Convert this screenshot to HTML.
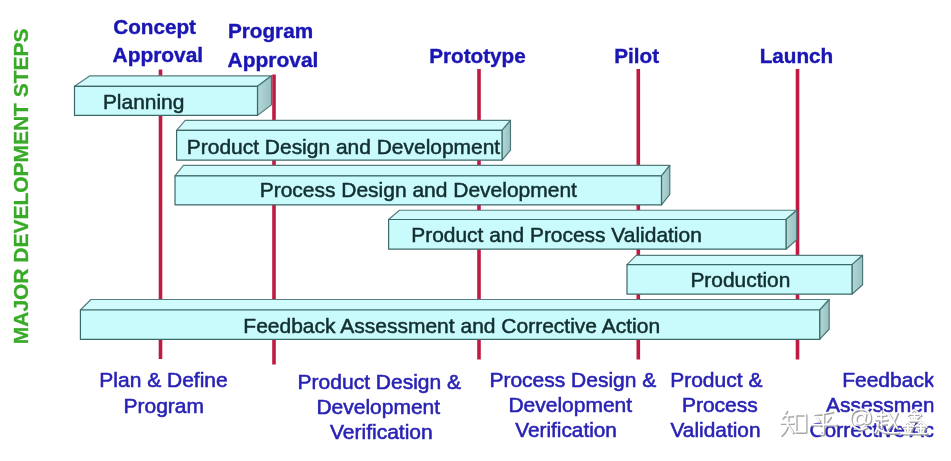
<!DOCTYPE html>
<html><head><meta charset="utf-8">
<style>
html,body{margin:0;padding:0;background:#fff;}
body{width:951px;height:461px;overflow:hidden;font-family:"Liberation Sans",sans-serif;}
svg{display:block;filter:blur(0.7px);}
.b{font-family:"Liberation Sans",sans-serif;font-weight:bold;font-size:20.7px;fill:#1a16b4;stroke:#1a16b4;stroke-width:0.4;}
.r{font-family:"Liberation Sans",sans-serif;font-size:21px;fill:#2822b4;stroke:#2822b4;stroke-width:0.55;}
.k{font-family:"Liberation Sans",sans-serif;font-size:21px;fill:#132e2f;stroke:#132e2f;stroke-width:0.5;}
.g{font-family:"Liberation Sans",sans-serif;font-weight:bold;font-size:21px;fill:#38aa28;stroke:#38aa28;stroke-width:0.3;}
.f{fill:#c9fbfc;stroke:#3c6868;stroke-width:1.2;stroke-linejoin:round;}
.t{fill:#cffbfc;stroke:#587c7c;stroke-width:1.15;stroke-linejoin:round;}
.s{fill:url(#sg);stroke:#4a7474;stroke-width:1.15;stroke-linejoin:round;}
.l{stroke:#c01a42;stroke-width:3.6;}
#wm path{vector-effect:non-scaling-stroke;}
</style></head><body>
<svg width="951" height="461" viewBox="0 0 951 461">
<rect width="951" height="461" fill="#fff"/>
<!-- vertical text -->
<text class="g" transform="translate(27.5,344.2) rotate(-90)" textLength="315.6" lengthAdjust="spacingAndGlyphs">MAJOR DEVELOPMENT STEPS</text>
<!-- red lines -->
<line class="l" x1="160.5" y1="69.4" x2="160.5" y2="359"/>
<line class="l" x1="274" y1="74.5" x2="274" y2="364.5"/>
<line class="l" x1="479" y1="69" x2="479" y2="359.5"/>
<line class="l" x1="638.3" y1="69" x2="638.3" y2="359.5"/>
<line class="l" x1="797.5" y1="69" x2="797.5" y2="359.5"/>
<!-- top labels -->
<text class="b" x="113.2" y="33.7">Concept</text>
<text class="b" x="112.6" y="62" textLength="90.6" lengthAdjust="spacingAndGlyphs">Approval</text>
<text class="b" x="228" y="38.4">Program</text>
<text class="b" x="227.6" y="67.1" textLength="90.8" lengthAdjust="spacingAndGlyphs">Approval</text>
<text class="b" x="429.2" y="62.5">Prototype</text>
<text class="b" x="614.3" y="62.5">Pilot</text>
<text class="b" x="759.7" y="62.5">Launch</text>
<!-- bars -->
<g id="bars">
<!-- Planning -->
<polygon class="t" points="74.5,86.3 90,75.8 271.5,75.8 257.5,86.3"/>
<polygon class="s" points="257.5,86.3 271.5,75.8 271.5,104.9 257.5,115.4"/>
<rect class="f" x="74.5" y="86.3" width="183" height="29.1"/>
<!-- Product Design -->
<polygon class="t" points="176.6,130.3 185.2,120.3 510.5,120.3 502,130.3"/>
<polygon class="s" points="502,130.3 510.5,120.3 510.5,150.2 502,160.1"/>
<rect class="f" x="176.6" y="130.3" width="325.4" height="29.8"/>
<!-- Process Design -->
<polygon class="t" points="175,175.8 183.4,165.4 669.8,165.4 661.5,175.8"/>
<polygon class="s" points="661.5,175.8 669.8,165.4 669.8,194.4 661.5,204.8"/>
<rect class="f" x="175" y="175.8" width="486.5" height="29"/>
<!-- Validation -->
<polygon class="t" points="388.6,219.5 399.4,210.2 796.7,210.2 786,219.5"/>
<polygon class="s" points="786,219.5 796.7,210.2 796.7,239.8 786,249.2"/>
<rect class="f" x="388.6" y="219.5" width="397.4" height="29.7"/>
<!-- Production -->
<polygon class="t" points="627,264.6 636.2,255.3 862.6,255.3 852,264.6"/>
<polygon class="s" points="852,264.6 862.6,255.3 862.6,284.8 852,294.2"/>
<rect class="f" x="627" y="264.6" width="225" height="29.6"/>
<!-- Feedback -->
<polygon class="t" points="80.4,310 90.9,299.5 829.2,299.5 819.7,310"/>
<polygon class="s" points="819.7,310 829.2,299.5 829.2,329 819.7,339.3"/>
<rect class="f" x="80.4" y="310" width="739.3" height="29.3"/>
</g>
<!-- bar labels -->
<text class="k" x="102.9" y="108.8" textLength="81.5" lengthAdjust="spacingAndGlyphs">Planning</text>
<text class="k" x="186.8" y="154" textLength="313.4" lengthAdjust="spacingAndGlyphs">Product Design and Development</text>
<text class="k" x="259.7" y="196.9" textLength="317.2" lengthAdjust="spacingAndGlyphs">Process Design and Development</text>
<text class="k" x="411.2" y="242.2" textLength="290.6" lengthAdjust="spacingAndGlyphs">Product and Process Validation</text>
<text class="k" x="690.4" y="287.4" textLength="100" lengthAdjust="spacingAndGlyphs">Production</text>
<text class="k" x="243.3" y="332.8" textLength="416.8" lengthAdjust="spacingAndGlyphs">Feedback Assessment and Corrective Action</text>
<!-- bottom labels -->
<text class="r" x="99.3" y="387.3">Plan &amp; Define</text>
<text class="r" x="123.5" y="412.5">Program</text>
<text class="r" x="297.6" y="389.1">Product Design &amp;</text>
<text class="r" x="316.4" y="414.3">Development</text>
<text class="r" x="330" y="439.1">Verification</text>
<text class="r" x="489.4" y="387.3">Process Design &amp;</text>
<text class="r" x="508.4" y="411.8">Development</text>
<text class="r" x="515.3" y="437" textLength="101.6" lengthAdjust="spacingAndGlyphs">Verification</text>
<text class="r" x="670.2" y="387.3">Product &amp;</text>
<text class="r" x="681.9" y="412">Process</text>
<text class="r" x="670.5" y="436.7" textLength="90" lengthAdjust="spacingAndGlyphs">Validation</text>
<g clip-path="url(#cp)">
<text class="r" x="842.2" y="387.3">Feedback</text>
<text class="r" x="826.1" y="412">Assessment</text>
<text class="r" x="809.4" y="436.7">Corrective Action</text>
</g>
<defs><linearGradient id="sg" x1="0" y1="0" x2="1" y2="0"><stop offset="0" stop-color="#b2d8d8"/><stop offset="1" stop-color="#98c0c0"/></linearGradient><clipPath id="cp"><rect x="800" y="360" width="133.4" height="101"/></clipPath></defs>
<!-- watermark -->
<defs>
<g id="wm" fill="none" stroke-linecap="round" stroke-linejoin="round" style="vector-effect:non-scaling-stroke">
 <!-- zhi -->
 <g transform="translate(779.6,409.8) scale(0.275,0.262)">
  <path d="M24,4 L10,30 M14,22 H46 M4,50 H50 M29,22 V50 Q26,78 6,96 M31,58 L48,86 M58,18 H94 V84 H58 Z"/>
 </g>
 <!-- hu -->
 <g transform="translate(809.6,410) scale(0.27,0.262)">
  <path d="M84,6 Q50,14 18,16 M26,28 L36,42 M76,26 L64,42 M4,56 H98 M51,16 V90 Q50,96 36,90"/>
 </g>
 <!-- at -->
 <g transform="translate(849.6,408.6) scale(1.03,1.05)">
  <path d="M16.5,17.5 Q12,20.5 8.5,19.5 Q1,17 1,10 Q1,1 10.5,0.5 Q20,0.5 20,9 Q20,14 16.5,14 Q14,14 14.5,11 L15.5,5 M14.8,8 Q13.5,4.5 10,5 Q6,6 6,10.5 Q6,14.5 9.5,14.5 Q13,14.5 14.5,11"/>
 </g>
 <!-- zhao -->
 <g transform="translate(874,409.8) scale(0.25,0.255)">
  <path d="M12,20 H46 M29,5 V38 M5,38 H52 M29,38 V72 M29,55 H48 M17,50 Q14,74 4,90 M12,70 Q30,90 60,90 H98 M58,14 L92,72 M92,12 Q80,50 54,74"/>
 </g>
 <!-- xin -->
 <g transform="translate(901.3,409) scale(0.26,0.255)">
  <path d="M50,2 L26,24 M50,2 L74,24 M36,20 H64 M34,31 H66 M50,14 V46 M28,46 H72 M40,36 L44,42 M60,36 L56,42"/>
  <path d="M25,50 L4,70 M25,50 L46,68 M12,66 H38 M10,77 H40 M25,60 V96 M4,96 H47 M14,84 L18,90 M36,84 L32,90"/>
  <path d="M75,50 L54,68 M75,50 L97,70 M62,66 H88 M60,77 H90 M75,60 V96 M53,96 H98 M64,84 L68,90 M86,84 L82,90"/>
 </g>
</g>
</defs>
<use href="#wm" transform="translate(1,1)" stroke="#9a9a9a" stroke-width="2.3" opacity="0.85"/>
<use href="#wm" stroke="#ffffff" stroke-width="1.6"/>
</svg>
</body></html>
